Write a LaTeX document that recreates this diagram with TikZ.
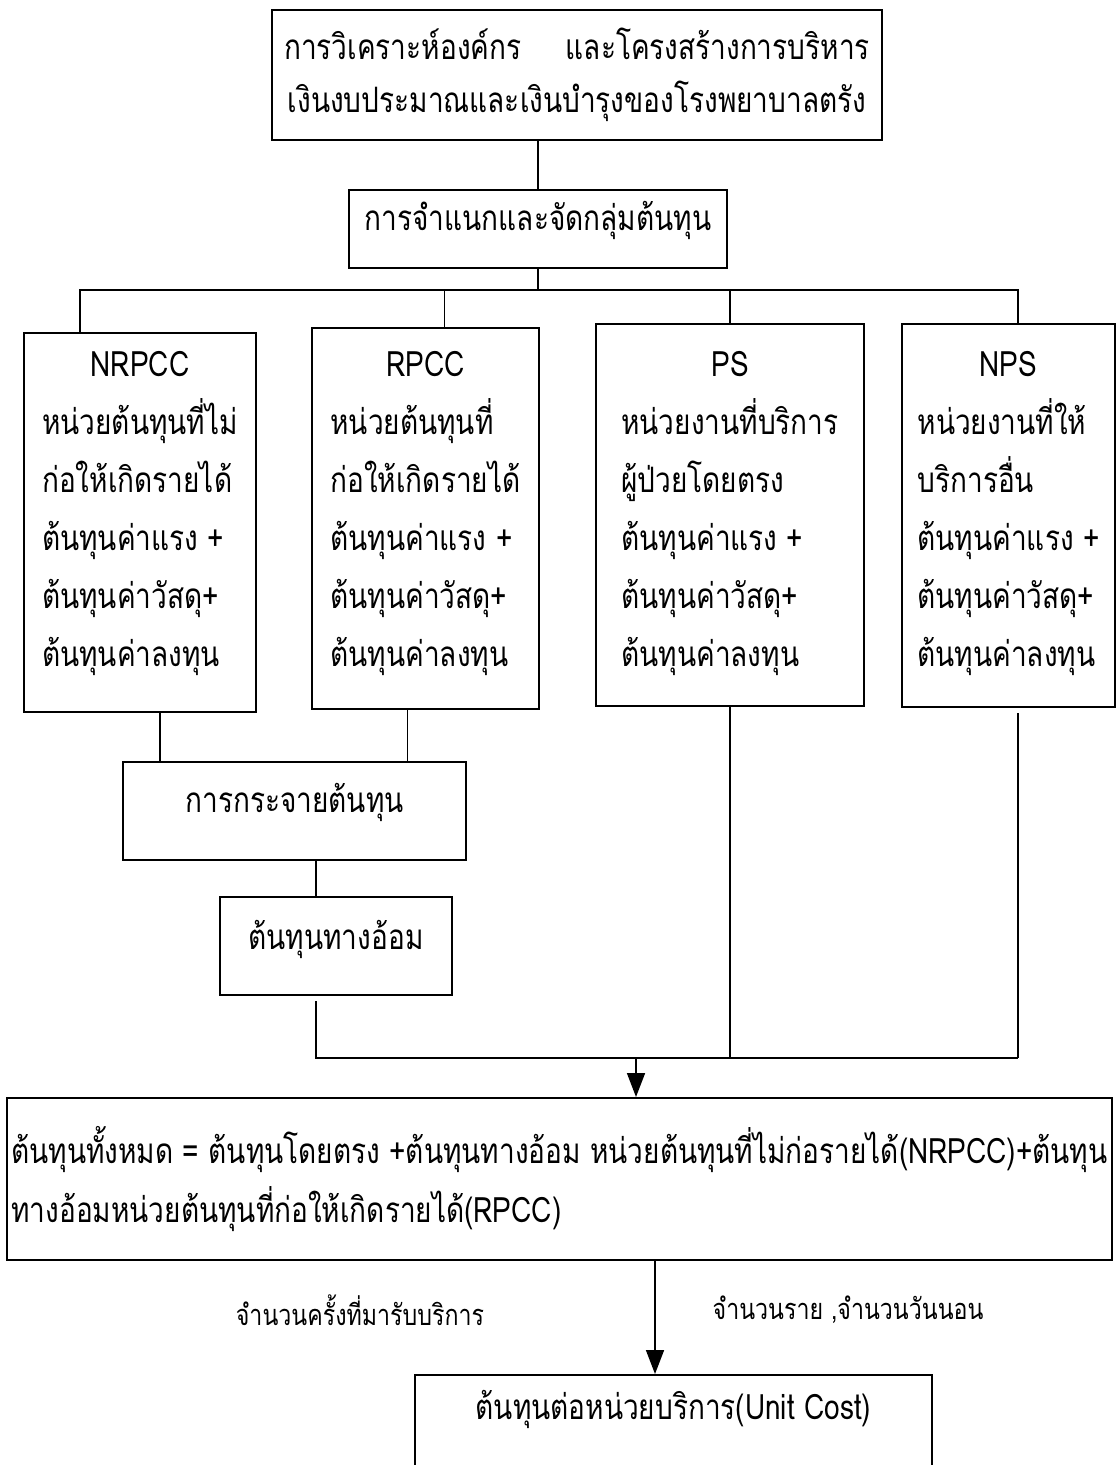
\documentclass[tikz,border=0pt]{standalone}
\usepackage{fontspec}
\setmainfont{Loma}[Script=Thai,FakeStretch=0.8]
\usetikzlibrary{positioning,arrows.meta}

\newcommand{\unitlines}[3]{%
  \begin{tabular}{@{}l@{}}
    \multicolumn{1}{@{}c@{}}{#1}\\
    #2\\
    #3\\
    ต้นทุนค่าแรง +\\
    ต้นทุนค่าวัสดุ+\\
    ต้นทุนค่าลงทุน
  \end{tabular}}

\begin{document}
\begin{tikzpicture}[x=0.5pt,y=-0.5pt,
  font=\fontsize{17.5}{29}\selectfont,
  box/.style={draw,line width=1pt,inner sep=0pt},
  oneline/.style={text height=10pt,text depth=#1},
  oneline/.default=10pt,
  unittext/.style={inner sep=0pt},
  link/.style={line width=0.8pt},
  arrow/.style={link,-{Triangle[width=9pt,length=12pt]}},
  note/.style={font=\fontsize{14.5}{16}\selectfont}]
\useasboundingbox (0,0) rectangle (1117,1465);

% top of the chart
\node[box,minimum width=305pt,minimum height=65pt,align=center,
  font=\fontsize{17.5}{26.5}\selectfont] (org) at (577,75)
  {การวิเคราะห์องค์กร\quad\ และโครงสร้างการบริหาร\\เงินงบประมาณและเงินบำรุงของโรงพยาบาลตรัง};
\node[box,minimum width=189pt,minimum height=39pt,oneline=8pt] (classify) at (538,229)
  {การจำแนกและจัดกลุ่มต้นทุน};

% the four cost centres
\node[box,minimum width=116pt,minimum height=189.5pt] (nrpcc) at (140,522.5) {};
\node[box,minimum width=113.5pt,minimum height=190.5pt] (rpcc) at (425.5,518.5) {};
\node[box,minimum width=134pt,minimum height=191pt] (ps) at (730,515) {};
\node[box,minimum width=106.5pt,minimum height=191.5pt] (nps) at (1008.5,515.5) {};

\node[unittext,below=1.7pt of nrpcc.north] (nrpcc text)
  {\unitlines{NRPCC}{หน่วยต้นทุนที่ไม่}{ก่อให้เกิดรายได้}};
\node[unittext,below=4pt of rpcc.north] (rpcc text)
  {\unitlines{RPCC}{หน่วยต้นทุนที่}{ก่อให้เกิดรายได้}};
\node[unittext,below=6pt of ps.north] (ps text)
  {\unitlines{PS}{หน่วยงานที่บริการ}{ผู้ป่วยโดยตรง}};
\node[unittext,below=6pt of nps.north] (nps text)
  {\unitlines{NPS}{หน่วยงานที่ให้}{บริการอื่น}};

% allocation
\node[box,minimum width=171.5pt,minimum height=49pt,oneline=9pt] (dist) at (294.5,811)
  {การกระจายต้นทุน};
\node[box,minimum width=116pt,minimum height=49pt,oneline=7pt] (indirect) at (336,946)
  {ต้นทุนทางอ้อม};

% totals
\node[box,minimum width=552.5pt,minimum height=81pt,align=left,
  font=\fontsize{17.5}{29.5}\selectfont] (total) at (559.5,1179)
  {ต้นทุนทั้งหมด = ต้นทุนโดยตรง +ต้นทุนทางอ้อม หน่วยต้นทุนที่ไม่ก่อรายได้(NRPCC)+ต้นทุน\\
   ทางอ้อมหน่วยต้นทุนที่ก่อให้เกิดรายได้(RPCC)};
\node[box,minimum width=258.5pt,minimum height=57.5pt,oneline=23.5pt] (unitcost) at (673.5,1432.5)
  {ต้นทุนต่อหน่วยบริการ(Unit Cost)};

\node[note] (visits) at (360,1310) {จำนวนครั้งที่มารับบริการ};
\node[note] (patients) at (848,1310) {จำนวนราย ,จำนวนวันนอน};

% connectors
\coordinate (fork w) at (80,290);
\coordinate (fork e) at (1018,290);
\coordinate (join w) at (316,1058);
\coordinate (join e) at (1018,1058);
\coordinate (merge) at (636,1058);

\draw[link] (classify.north) -- (classify.north |- org.south);
\draw[link] (classify.south) -- (classify.south |- fork w);
\draw[link] (fork w |- nrpcc.north) -- (fork w) -- (fork e) -- (fork e |- nps.north);
\draw[link] ([xshift=9.5pt]rpcc.north) -- ([xshift=9.5pt]rpcc.north |- fork w);
\draw[link] (ps.north) -- (ps.north |- fork w);

\draw[link] ([xshift=10pt]nrpcc.south) -- ([xshift=10pt]nrpcc.south |- dist.north);
\draw[link] ([xshift=-9pt]rpcc.south) -- ([xshift=-9pt]rpcc.south |- dist.north);
\draw[link] ([xshift=10.75pt]dist.south) -- ([xshift=10.75pt]dist.south |- indirect.north);

\draw[link,shorten <=2.5pt] (join w |- indirect.south) -- (join w) -- (join e);
\draw[link,shorten <=2.5pt] (join e |- nps.south) -- (join e);
\draw[link] (ps.south) -- (ps.south |- join w);

\draw[arrow] (merge) -- (merge |- total.north);
\draw[arrow] ([xshift=47.75pt]total.south) -- ([xshift=47.75pt]total.south |- unitcost.north);

\end{tikzpicture}
\end{document}
